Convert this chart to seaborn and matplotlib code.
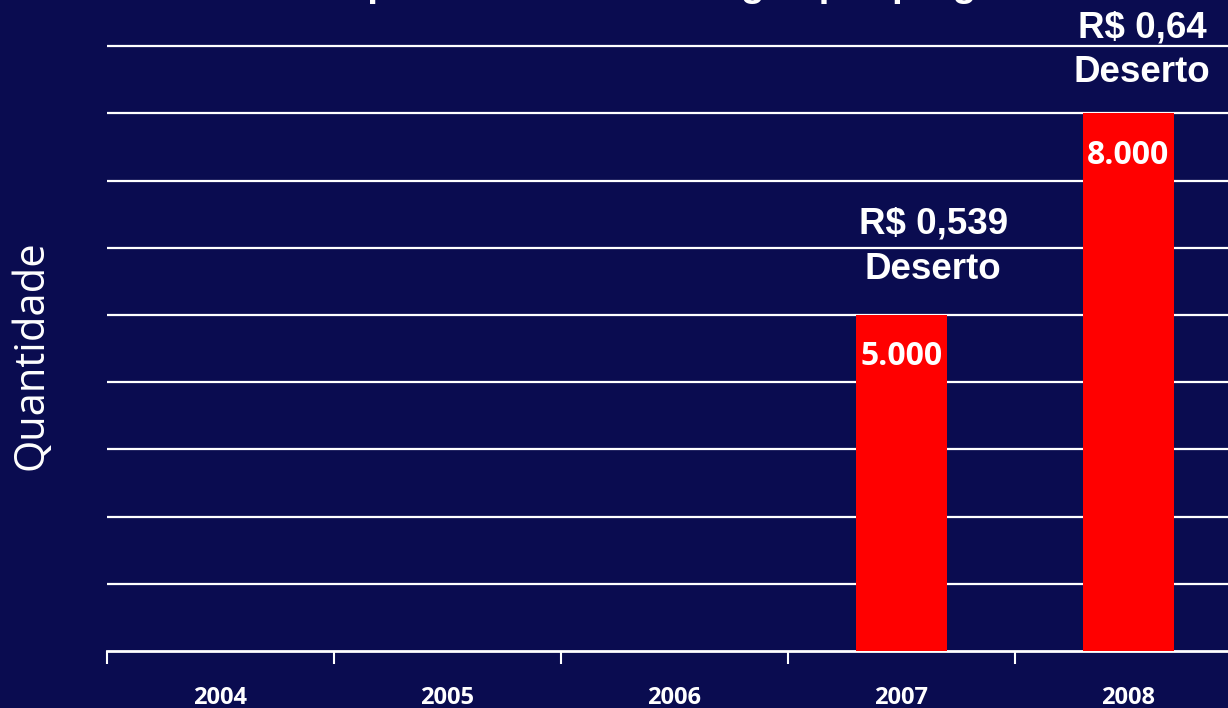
import matplotlib
matplotlib.use("Agg")
import matplotlib.pyplot as plt
import seaborn as sns
import pandas as pd

# dados
anos = ["2004", "2005", "2006", "2007", "2008"]
quantidade = [0, 0, 0, 5000, 8000]
rotulos_barra = ["", "", "", "5.000", "8.000"]
notas = ["", "", "", "R$ 0,539\nDeserto", "R$ 0,64\nDeserto"]
titulo = "Compra de canetas com gás por pregão"

fundo = "#0a0c50"
vermelho = "#ff0000"

sns.set_theme(style="white")
plt.rcParams["font.family"] = ["Open Sans", "DejaVu Sans"]

df = pd.DataFrame({"ano": anos, "qtd": quantidade})

fig = plt.figure(figsize=(12.28, 7.08), dpi=100, facecolor=fundo)
ax = fig.add_axes([0.0871, 0.0805, 0.9243, 0.9017])
ax.set_facecolor(fundo)

sns.barplot(data=df, x="ano", y="qtd", color=vermelho, width=0.4,
            saturation=1, ax=ax, zorder=3, edgecolor="none", linewidth=0)

ax.set_xlim(-0.5, 4.5)
ax.set_ylim(0, 9500)
ax.set_yticks(range(1000, 9001, 1000))
ax.set_yticklabels([])
ax.tick_params(axis="y", length=0)
ax.yaxis.grid(True, color="white", linewidth=1.6, zorder=0)
ax.set_axisbelow(True)

# ticks nas divisas, rótulos no centro
ax.set_xticks([i - 0.5 for i in range(len(anos) + 1)])
ax.set_xticklabels([])
ax.tick_params(axis="x", which="major", bottom=True, length=9, width=1.5,
               color="white", direction="out")
ax.set_xticks(range(len(anos)), minor=True)
ax.set_xticklabels(anos, minor=True, fontsize=17, fontweight="bold", color="white")
ax.tick_params(axis="x", which="minor", bottom=True, length=0, pad=25)

for s in ["top", "right", "left"]:
    ax.spines[s].set_visible(False)
ax.spines["bottom"].set_color("white")
ax.spines["bottom"].set_linewidth(2)

ax.set_xlabel("")
ax.set_ylabel("Quantidade", fontsize=30, color="white")
ax.yaxis.set_label_coords(-0.0476, 0.4637)

# deslocamento das notas acima das barras (x, y)
desloc = {3: (0.14, 416), 4: (0.06, 341)}

for i, (v, r, n) in enumerate(zip(quantidade, rotulos_barra, notas)):
    if r:
        ax.text(i, v - 750, r, ha="center", va="baseline", color="white",
                fontsize=23, fontweight="bold", zorder=4)
    if n:
        dx, dy = desloc[i]
        ax.text(i + dx, v + dy, n, ha="center", va="bottom",
                color="white", fontsize=26.5, fontweight="bold",
                family="Liberation Sans", linespacing=1.38, zorder=4)

fig.text(0.53, 1.006, titulo, ha="center", va="baseline", color="white",
         fontsize=28, fontweight="bold", family="Liberation Sans")

fig.savefig("out.png", dpi=100, facecolor=fundo)
